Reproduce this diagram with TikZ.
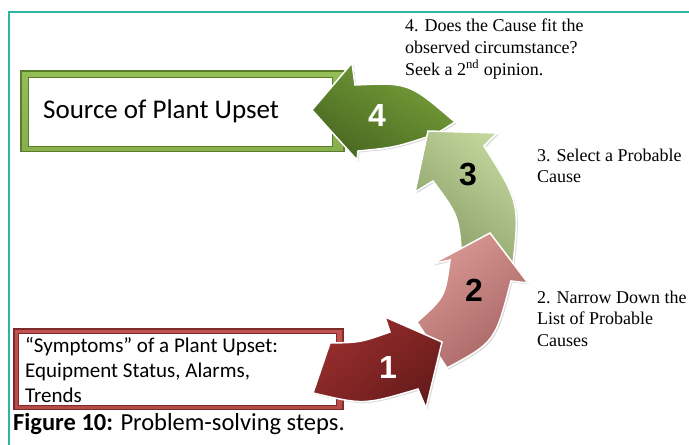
\documentclass[tikz,border=0pt]{standalone}
\usepackage{fontspec}
\setmainfont{Liberation Serif}
\newfontfamily\calibri{Carlito}
\newfontfamily\arialfont{Liberation Sans}
\usetikzlibrary{shadows}

\definecolor{framecol}{HTML}{2DB7A3}
\definecolor{redA}{HTML}{9A2E2E}
\definecolor{redB}{HTML}{681B1B}
\definecolor{pinkA}{HTML}{DB9995}
\definecolor{pinkB}{HTML}{A66563}
\definecolor{lgreenA}{HTML}{C2D69C}
\definecolor{lgreenB}{HTML}{869A64}
\definecolor{dgreenA}{HTML}{76A03A}
\definecolor{dgreenB}{HTML}{4A6821}
\definecolor{gframeA}{HTML}{93BD55}
\definecolor{gframeB}{HTML}{5A7D2C}
\definecolor{rframeA}{HTML}{C0524F}
\definecolor{rframeB}{HTML}{7E2A2A}

\begin{document}
\begin{tikzpicture}[x=1pt, y=-1pt,
  cycarrow/.style={draw=white, line width=1.5pt, line join=miter,
    drop shadow={opacity=.3, shadow xshift=1.5pt, shadow yshift=-1.5pt}},
  stepnum/.style={inner sep=0pt, font=\arialfont\bfseries\fontsize{32}{32}\selectfont},
  sidenote/.style={anchor=base west, inner sep=0pt, align=left,
    font=\fontsize{18}{21.7}\selectfont},
  boxtext/.style={anchor=base west, inner sep=0pt, align=left,
    font=\calibri\fontsize{21}{25}\selectfont}]
  \useasboundingbox (0,0) rectangle (689,445);

  \draw[framecol, line width=1.3pt] (689,12) -- (9,12) -- (9,445);

  % boxes
  \fill[gframeB] (20,70) rectangle (345,152);
  \fill[top color=gframeA, bottom color=gframeA!80!gframeB] (22,72) rectangle (343,150);
  \fill[white] (28,77) rectangle (332,146);
  \draw[gframeB, line width=.6pt] (28,77) rectangle (332,146);

  \fill[rframeB] (13,328) rectangle (344,410);
  \fill[top color=rframeA, bottom color=rframeA!85!rframeB] (15,330) rectangle (342,408);
  \fill[white] (18,333) rectangle (336,405);
  \draw[rframeB, line width=.6pt] (18,333) rectangle (336,405);

  % arrows, back to front
  \path[cycarrow, top color=dgreenA, bottom color=dgreenB, shading angle=-30]
    (436,134) -- (455,122) .. controls (409,82.5) .. (355,85) -- (352,63)
    -- (312,110) -- (357,160) -- (358,151) .. controls (395,147.5) .. (436,134) -- cycle;
  \path[cycarrow, top color=lgreenA, bottom color=lgreenB, shading angle=-40]
    (462,262) -- (512,272) .. controls (520,203) .. (484,146) -- (497,133)
    -- (428,131) -- (415,192) -- (433,181) .. controls (459,216) .. (462,262) -- cycle;
  \path[cycarrow, top color=pinkA, bottom color=pinkB, shading angle=40]
    (417,322) -- (447,368) .. controls (495,342) .. (511,281) -- (528,283)
    -- (490,233) -- (432,264) -- (450,260) .. controls (445,297) .. (417,322) -- cycle;
  \path[cycarrow, top color=redA, bottom color=redB, shading angle=40]
    (330,343) -- (313,393) .. controls (364,405) .. (418,389) -- (426,408)
    -- (442,342) -- (385,317) -- (390,332) .. controls (360,342.5) .. (330,343) -- cycle;

  \node[stepnum, white] (n1) at (388,367) {1};
  \node[stepnum] (n2) at (474,290) {2};
  \node[stepnum] (n3) at (468,175) {3};
  \node[stepnum, white] (n4) at (377,115) {4};

  % texts (base anchor = last line)
  \node[boxtext, font=\calibri\fontsize{27}{32}\selectfont] (src) at (43,118) {Source of Plant Upset};
  \node[boxtext] (sym) at (25,402) {“Symptoms” of a Plant Upset:\\Equipment Status, Alarms,\\Trends};
  \node[boxtext, font=\calibri\fontsize{24.5}{29}\selectfont] (cap) at (13,430) {\textbf{Figure 10:} Problem-solving steps.};

  \node[sidenote] (t4) at (405,75.1) {4. Does the Cause fit the\\observed circumstance?\\Seek a 2\textsuperscript{nd} opinion.};
  \node[sidenote] (t3) at (537,182.7) {3. Select a Probable\\Cause};
  \node[sidenote] (t2) at (537,346.4) {2. Narrow Down the\\List of Probable\\Causes};
\end{tikzpicture}
\end{document}
